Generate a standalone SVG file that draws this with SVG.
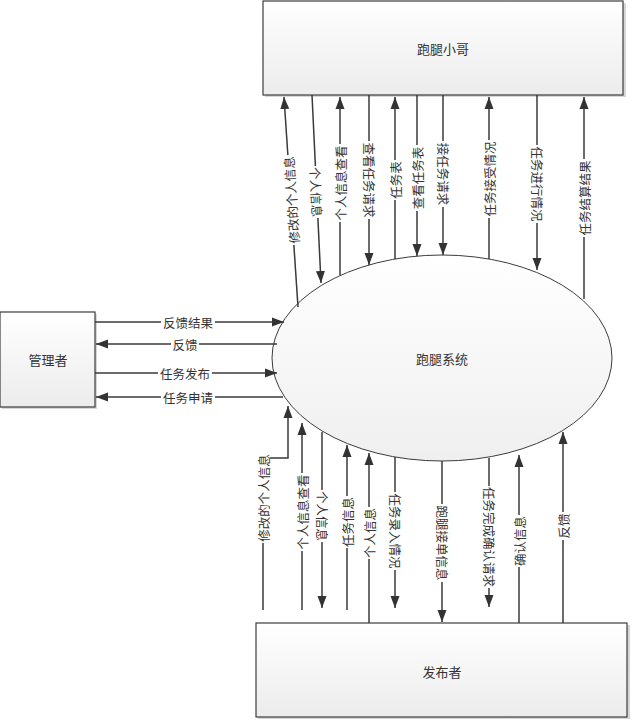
<svg xmlns="http://www.w3.org/2000/svg" width="632" height="721" viewBox="0 0 632 721">
<style>
.box{stroke:#3c3c3c;stroke-width:1.2;fill:url(#gb)}
.shadow{fill:#d6d6d6}
.nt{font-family:"Noto Sans CJK SC","Liberation Sans",sans-serif;font-size:13px;fill:#333;text-anchor:middle;dominant-baseline:central}
.ln{fill:none;stroke:#3a3a3a;stroke-width:1.5}
.ar{marker-end:url(#ah)}
.lb{fill:#fff}
.lt{font-family:"Noto Sans CJK SC","Liberation Sans",sans-serif;font-size:12.5px;fill:#333;text-anchor:middle;dominant-baseline:central}
</style>
<defs>
<linearGradient id="gb" x1="0" y1="0" x2="0" y2="1">
<stop offset="0" stop-color="#ffffff"/>
<stop offset="1" stop-color="#ececec"/>
</linearGradient>
<linearGradient id="ge" x1="0" y1="0" x2="0" y2="1">
<stop offset="0" stop-color="#ffffff"/>
<stop offset="1" stop-color="#efefef"/>
</linearGradient>
<marker id="ah" markerWidth="12" markerHeight="10" refX="12" refY="5" orient="auto" markerUnits="userSpaceOnUse" viewBox="0 0 12 10">
<path d="M0,0.5 L12,5 L0,9.5 z" fill="#333"/>
</marker>
</defs>
<rect width="632" height="721" fill="#fff"/>

<g id="node-runner">
<rect class="shadow" x="265" y="3" width="361" height="94"/>
<rect class="box" x="263" y="1" width="360" height="94"/>
<text class="nt" x="443" y="48">跑腿小哥</text>
</g>

<g id="node-admin">
<rect class="shadow" x="2" y="314" width="95" height="95"/>
<rect class="box" x="0" y="312" width="95" height="95"/>
<text class="nt" x="48" y="359">管理者</text>
</g>

<g id="node-publisher">
<rect class="shadow" x="258" y="625" width="372" height="94"/>
<rect class="box" x="256" y="623" width="371" height="94"/>
<text class="nt" x="442" y="671">发布者</text>
</g>

<g id="node-system">
<ellipse cx="442" cy="358" rx="170" ry="103" fill="url(#ge)" stroke="#3c3c3c" stroke-width="1"/>
<text class="nt" x="442" y="358">跑腿系统</text>
</g>

<g id="connectors">
<!-- top -->
<path class="ln ar" d="M298,307 L284,97"/>
<path class="ln ar" d="M312,95 L321,283"/>
<path class="ln ar" d="M340,275 L340,97"/>
<path class="ln ar" d="M369,95 L369,265"/>
<path class="ln ar" d="M395,259 L395,97"/>
<path class="ln ar" d="M417,95 L417,256"/>
<path class="ln ar" d="M443,95 L443,255"/>
<path class="ln ar" d="M489,259 L489,97"/>
<path class="ln ar" d="M537,95 L537,270"/>
<path class="ln ar" d="M584,299 L584,97"/>
<!-- left -->
<path class="ln ar" d="M95,322 L284,322"/>
<path class="ln ar" d="M277,344 L96,344"/>
<path class="ln ar" d="M95,373 L277,373"/>
<path class="ln ar" d="M283,397 L96,397"/>
<!-- bottom -->
<path class="ln ar" d="M263,610 L263,458 L288,458 L288,406"/>
<path class="ln ar" d="M302,610 L302,423"/>
<path class="ln ar" d="M322,432 L322,608"/>
<path class="ln ar" d="M347,610 L347,445"/>
<path class="ln ar" d="M369,623 L369,453"/>
<path class="ln ar" d="M395,457 L395,608"/>
<path class="ln ar" d="M442,461 L442,622"/>
<path class="ln ar" d="M489,458 L489,607"/>
<path class="ln ar" d="M519,623 L519,455"/>
<path class="ln ar" d="M563,623 L563,432"/>

<!-- top labels -->
<g transform="translate(291,200) rotate(-93.8)"><rect class="lb" x="-45" y="-7" width="90" height="14"/><text class="lt">修改的个人信息</text></g>
<g transform="translate(316.6,192) rotate(87.3)"><rect class="lb" x="-26" y="-7" width="52" height="14"/><text class="lt">个人信息</text></g>
<g transform="translate(340,183) rotate(-90)"><rect class="lb" x="-39" y="-7" width="78" height="14"/><text class="lt">个人信息查看</text></g>
<g transform="translate(369,180) rotate(90)"><rect class="lb" x="-39" y="-7" width="78" height="14"/><text class="lt">查看任务请求</text></g>
<g transform="translate(395,180) rotate(-90)"><rect class="lb" x="-20" y="-7" width="40" height="14"/><text class="lt">任务表</text></g>
<g transform="translate(417,178) rotate(-90)"><rect class="lb" x="-33" y="-7" width="66" height="14"/><text class="lt">查看任务表</text></g>
<g transform="translate(443,174) rotate(90)"><rect class="lb" x="-33" y="-7" width="66" height="14"/><text class="lt">接任务请求</text></g>
<g transform="translate(489,179) rotate(-90)"><rect class="lb" x="-39" y="-7" width="78" height="14"/><text class="lt">任务接受情况</text></g>
<g transform="translate(537,184) rotate(90)"><rect class="lb" x="-39" y="-7" width="78" height="14"/><text class="lt">任务进行情况</text></g>
<g transform="translate(584,198) rotate(-90)"><rect class="lb" x="-39" y="-7" width="78" height="14"/><text class="lt">任务结算结果</text></g>

<!-- left labels -->
<g transform="translate(188,322)"><rect class="lb" x="-27" y="-7" width="54" height="14"/><text class="lt">反馈结果</text></g>
<g transform="translate(185,344)"><rect class="lb" x="-14" y="-7" width="28" height="14"/><text class="lt">反馈</text></g>
<g transform="translate(185,373)"><rect class="lb" x="-27" y="-7" width="54" height="14"/><text class="lt">任务发布</text></g>
<g transform="translate(188,397)"><rect class="lb" x="-27" y="-7" width="54" height="14"/><text class="lt">任务申请</text></g>

<!-- bottom labels -->
<g transform="translate(263,498) rotate(-90)"><rect class="lb" x="-45" y="-7" width="90" height="14"/><text class="lt">修改的个人信息</text></g>
<g transform="translate(302,512) rotate(-90)"><rect class="lb" x="-39" y="-7" width="78" height="14"/><text class="lt">个人信息查看</text></g>
<g transform="translate(322,516) rotate(90)"><rect class="lb" x="-26" y="-7" width="52" height="14"/><text class="lt">个人信息</text></g>
<g transform="translate(347,522) rotate(-90)"><rect class="lb" x="-26" y="-7" width="52" height="14"/><text class="lt">任务信息</text></g>
<g transform="translate(369,533) rotate(-90)"><rect class="lb" x="-26" y="-7" width="52" height="14"/><text class="lt">个人信息</text></g>
<g transform="translate(395,531) rotate(90)"><rect class="lb" x="-39" y="-7" width="78" height="14"/><text class="lt">任务录入情况</text></g>
<g transform="translate(442,543) rotate(90)"><rect class="lb" x="-39" y="-7" width="78" height="14"/><text class="lt">跑腿接单信息</text></g>
<g transform="translate(489,537) rotate(90)"><rect class="lb" x="-51" y="-7" width="102" height="14"/><text class="lt">任务完成确认请求</text></g>
<g transform="translate(519,541) rotate(-90)"><rect class="lb" x="-26" y="-7" width="52" height="14"/><text class="lt">确认信息</text></g>
<g transform="translate(563,526) rotate(-90)"><rect class="lb" x="-14" y="-7" width="28" height="14"/><text class="lt">反馈</text></g>
</g>
</svg>
